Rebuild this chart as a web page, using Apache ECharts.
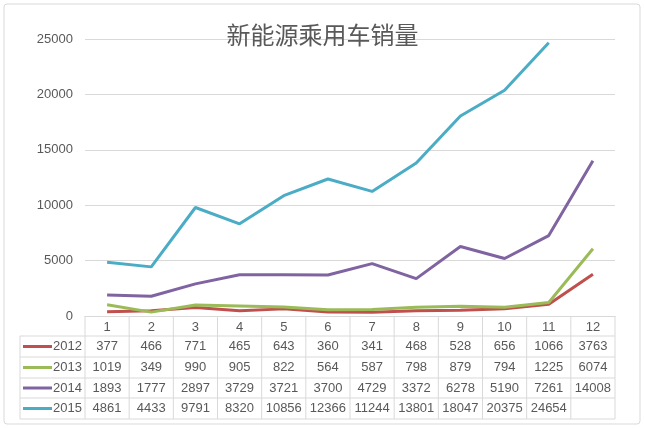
<!DOCTYPE html>
<html><head><meta charset="utf-8">
<script src="https://cdn.jsdelivr.net/npm/echarts@6/dist/echarts.min.js"></script>
<style>html,body{margin:0;padding:0;background:#fff}#c{width:645px;height:428px}</style>
</head><body><div id="c"></div>
<script>
const months = ['1','2','3','4','5','6','7','8','9','10','11','12'];
const seriesNames = ['2012','2013','2014','2015'];
const s2012 = [377,466,771,465,643,360,341,468,528,656,1066,3763];
const s2013 = [1019,349,990,905,822,564,587,798,879,794,1225,6074];
const s2014 = [1893,1777,2897,3729,3721,3700,4729,3372,6278,5190,7261,14008];
const s2015 = [4861,4433,9791,8320,10856,12366,11244,13801,18047,20375,24654,null];
const colors = ['#c0504d','#9bbb59','#8064a2','#4bacc6'];
const allData = [s2012,s2013,s2014,s2015];

const L=85, R=615, T=39, B=316;
const cw=(R-L)/12;
const rowY=[316,336,357,378,398,419];
const txt='#595959', lineC='#d9d9d9';
const g=[];
g.push({type:'rect',shape:{x:4,y:4,width:636,height:420,r:3},style:{fill:'none',stroke:'#d9d9d9',lineWidth:1},z:0});
for(let r=1;r<rowY.length;r++) g.push({type:'line',shape:{x1:20,y1:rowY[r],x2:R,y2:rowY[r]},style:{stroke:lineC,lineWidth:1}});
g.push({type:'line',shape:{x1:20,y1:rowY[1],x2:20,y2:rowY[5]},style:{stroke:lineC,lineWidth:1}});
for(let k=0;k<=12;k++) g.push({type:'line',shape:{x1:L+k*cw,y1:B,x2:L+k*cw,y2:rowY[5]},style:{stroke:lineC,lineWidth:1}});
for(let s=0;s<4;s++){
  const yc=(rowY[s+1]+rowY[s+2])/2;
  g.push({type:'line',shape:{x1:23,y1:yc,x2:52,y2:yc},style:{stroke:colors[s],lineWidth:3}});
  g.push({type:'text',style:{x:82,y:yc,text:seriesNames[s],align:'right',verticalAlign:'middle',fill:txt,font:'13px "Liberation Sans", Arial, sans-serif'}});
  for(let i=0;i<12;i++){
    const v=allData[s][i];
    if(v==null) continue;
    g.push({type:'text',style:{x:L+(i+0.5)*cw,y:yc,text:String(v),align:'center',verticalAlign:'middle',fill:txt,font:'13px "Liberation Sans", Arial, sans-serif'}});
  }
}
const chart=echarts.init(document.getElementById('c'));
chart.setOption({
  animation:false,
  title:{text:'新能源乘用车销量',left:'center',top:18,textStyle:{color:txt,fontSize:24,fontWeight:'normal',fontFamily:'"Noto Sans CJK SC"'}},
  grid:{left:L,right:645-R,top:T,bottom:428-B},
  xAxis:{type:'category',data:months,boundaryGap:true,
    axisLine:{lineStyle:{color:lineC}},axisTick:{show:false},
    axisLabel:{color:txt,fontSize:13,margin:5,fontFamily:'"Liberation Sans", Arial'}},
  yAxis:{type:'value',min:0,max:25000,interval:5000,
    axisLine:{show:false},axisTick:{show:false},
    splitLine:{lineStyle:{color:lineC}},
    axisLabel:{color:txt,fontSize:13,margin:12,formatter:v=>String(v),fontFamily:'"Liberation Sans", Arial'}},
  series:allData.map((d,i)=>({name:seriesNames[i],type:'line',data:d,symbol:'none',
    lineStyle:{color:colors[i],width:3},itemStyle:{color:colors[i]}})),
  graphic:g
});
</script></body></html>
